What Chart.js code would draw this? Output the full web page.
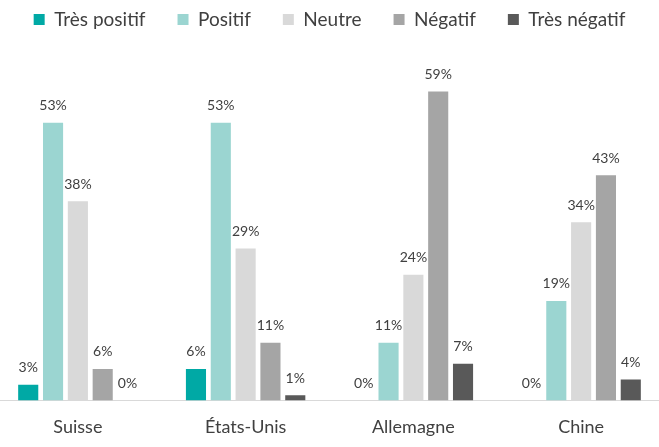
<!DOCTYPE html>
<html>
<head>
<meta charset="utf-8">
<script src="https://cdn.jsdelivr.net/npm/chart.js@4"></script>
<style>
  html, body { margin: 0; padding: 0; background: #fff; overflow: hidden; }
  #wrap { position: relative; left: -6px; width: 671px; height: 447px; }
</style>
</head>
<body>
<div id="wrap"><canvas id="avisChart"></canvas></div>
<script>
const pays = ['Suisse', 'États-Unis', 'Allemagne', 'Chine'];
const tresPositif = [3, 6, 0, 0];
const positif = [53, 53, 11, 19];
const neutre = [38, 29, 24, 34];
const negatif = [6, 11, 59, 43];
const tresNegatif = [0, 1, 7, 4];

const police = 'Lato, "Open Sans", sans-serif';

// labels de valeurs au-dessus des barres
const etiquettes = {
    id: 'etiquettes',
    afterDatasetsDraw(chart) {
        const ctx = chart.ctx;
        ctx.save();
        ctx.font = '14px ' + police;
        ctx.fillStyle = '#404040';
        ctx.textAlign = 'center';
        ctx.textBaseline = 'bottom';
        chart.data.datasets.forEach((ds, i) => {
            chart.getDatasetMeta(i).data.forEach((bar, j) => {
                ctx.fillText(ds.data[j] + '%', bar.x, bar.y - 10);
            });
        });
        ctx.restore();
    }
};

const ctx1 = document.getElementById('avisChart').getContext('2d');
const avisChart = new Chart(ctx1, {
    type: 'bar',
    data: {
        labels: pays,
        datasets: [
            { label: 'Très positif', data: tresPositif, backgroundColor: '#00A9A5' },
            { label: 'Positif', data: positif, backgroundColor: '#9BD5D1' },
            { label: 'Neutre', data: neutre, backgroundColor: '#D9D9D9' },
            { label: 'Négatif', data: negatif, backgroundColor: '#A5A5A5' },
            { label: 'Très négatif', data: tresNegatif, backgroundColor: '#595959' }
        ]
    },
    options: {
        responsive: true,
        maintainAspectRatio: false,
        animation: false,
        layout: { padding: { left: 0, right: 0, top: -22, bottom: -7 } },
        datasets: {
            bar: { barPercentage: 0.81, categoryPercentage: 0.74 }
        },
        plugins: {
            legend: {
                position: 'top',
                labels: {
                    font: { family: police, size: 19 },
                    color: '#404040',
                    boxWidth: 11,
                    boxHeight: 11,
                    padding: 32
                }
            },
            tooltip: { enabled: false }
        },
        scales: {
            x: {
                grid: { display: false, drawTicks: false },
                border: { color: '#D9D9D9', width: 1 },
                ticks: {
                    font: { family: police, size: 18 },
                    color: '#404040',
                    padding: 16
                }
            },
            y: {
                display: false,
                min: 0,
                max: 69
            }
        }
    },
    plugins: [etiquettes]
});
</script>
</body>
</html>
